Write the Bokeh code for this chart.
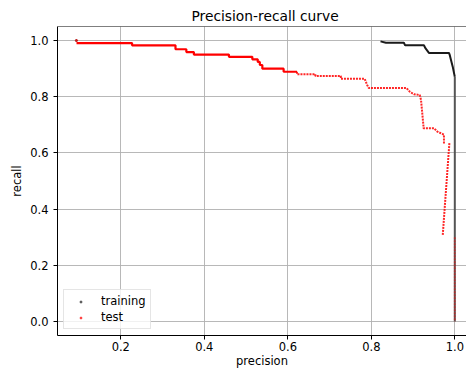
from bokeh.plotting import figure
from bokeh.models import Range1d, FixedTicker, PrintfTickFormatter, Span, Legend, LegendItem
from bokeh.embed import file_html
from bokeh.resources import INLINE

# ---------------- data ----------------
# training curve: baseline point, knee and the vertical run at precision 1.0
train_start_precision = [0.0937]
train_start_recall = [1.0]
train_knee_precision = [0.822, 0.835, 0.878, 0.881, 0.926, 0.930, 0.938, 0.986, 0.988, 0.991, 0.995, 0.998, 1.000]
train_knee_recall = [0.997, 0.992, 0.992, 0.983, 0.983, 0.972, 0.956, 0.956, 0.948, 0.930, 0.907, 0.885, 0.871]
train_vert_precision = [1.0, 1.0]
train_vert_recall = [0.871, 0.0]

# test curve: baseline point, dense low-precision part, sparse part, tail, top run
test_start_precision = [0.0937]
test_start_recall = [1.0]
test_dense_precision = [0.094, 0.227, 0.227, 0.331, 0.331, 0.357, 0.357, 0.375, 0.375, 0.459, 0.459,
                        0.515, 0.515, 0.528, 0.528, 0.533, 0.533, 0.539, 0.539, 0.590, 0.590, 0.622]
test_dense_recall = [0.991, 0.991, 0.983, 0.983, 0.969, 0.969, 0.959, 0.959, 0.950, 0.950, 0.942,
                     0.942, 0.933, 0.933, 0.924, 0.924, 0.913, 0.913, 0.900, 0.900, 0.889, 0.889]
test_sparse_precision = [0.622, 0.622, 0.666, 0.666, 0.727, 0.727, 0.784, 0.787, 0.790, 0.794, 0.884,
                         0.892, 0.902, 0.916, 0.919, 0.922, 0.925, 0.925, 0.950, 0.958, 0.974, 0.974]
test_sparse_recall = [0.889, 0.880, 0.880, 0.874, 0.874, 0.864, 0.864, 0.853, 0.842, 0.831, 0.831,
                      0.818, 0.809, 0.806, 0.789, 0.742, 0.694, 0.688, 0.688, 0.676, 0.665, 0.630]
test_tail_precision = [0.987, 0.971]
test_tail_recall = [0.635, 0.305]
test_top_precision = [1.0, 1.0]
test_top_recall = [0.30, 0.0]

x_ticks = [0.2, 0.4, 0.6, 0.8, 1.0]
y_ticks = [0.0, 0.2, 0.4, 0.6, 0.8, 1.0]

FONT = "DejaVu Sans"

p = figure(width=466, height=370,
           x_range=Range1d(0.0484, 1.028), y_range=Range1d(-0.05, 1.05),
           output_backend="svg", toolbar_location=None,
           min_border_left=57, min_border_right=0, min_border_top=26, min_border_bottom=34,
           title="Precision-recall curve")

p.title.text_font = FONT
p.title.text_font_size = "13.8px"
p.title.text_font_style = "normal"
p.title.text_color = "black"
p.title.align = "left"
p.title.offset = 134
p.title.standoff = 6

p.outline_line_color = None
p.add_layout(Span(location=1.05, dimension="width", line_color="black", line_width=1))

for ax in (p.xaxis, p.yaxis):
    ax.axis_line_color = "black"
    ax.axis_line_width = 1
    ax.major_tick_out = 4
    ax.major_tick_in = 0
    ax.major_tick_line_color = "black"
    ax.minor_tick_line_color = None
    ax.major_label_text_font = FONT
    ax.major_label_text_font_size = "11.5px"
    ax.major_label_text_color = "black"
    ax.axis_label_text_font = FONT
    ax.axis_label_text_font_size = "11.5px"
    ax.axis_label_text_font_style = "normal"
    ax.axis_label_text_color = "black"
    ax.formatter = PrintfTickFormatter(format="%.1f")

p.xaxis.ticker = FixedTicker(ticks=x_ticks)
p.yaxis.ticker = FixedTicker(ticks=y_ticks)
p.xaxis.axis_label = "precision"
p.yaxis.axis_label = "recall"
p.xaxis.major_label_standoff = 2
p.yaxis.major_label_standoff = 5
p.xaxis.axis_label_standoff = 0
p.yaxis.axis_label_standoff = 3

p.grid.grid_line_color = "#b0b0b0"
p.grid.grid_line_width = 0.9

# training (drawn first)
p.line(train_knee_precision, train_knee_recall, line_color="#1a1a1a", line_width=2)
p.line(train_vert_precision, train_vert_recall, line_color="#555555", line_width=2)
r_train = p.scatter(train_start_precision, train_start_recall, size=2, color="#555555")

# test
p.line(test_dense_precision, test_dense_recall, line_color="red", line_width=2.2)
p.line(test_sparse_precision, test_sparse_recall, line_color="red", line_width=2,
       line_dash="2 1", line_alpha=0.85)
p.line(test_tail_precision, test_tail_recall, line_color="red", line_width=2,
       line_dash="2 1", line_alpha=0.85)
p.line(test_top_precision, test_top_recall, line_color="red", line_width=2,
       line_dash="2 1", line_alpha=0.45)
r_test = p.scatter(test_start_precision, test_start_recall, size=2, color="red", alpha=0.6)

legend = Legend(items=[LegendItem(label="training", renderers=[r_train]),
                       LegendItem(label="test", renderers=[r_test])],
                location=(6, 6))
legend.label_text_font = FONT
legend.label_text_font_size = "11.5px"
legend.label_text_color = "black"
legend.padding = 4
legend.spacing = 2
legend.margin = 0
legend.label_height = 14
legend.glyph_height = 5
legend.glyph_width = 25
legend.label_standoff = 8
legend.border_line_color = "#cccccc"
legend.border_line_width = 1
legend.background_fill_alpha = 0.8
p.add_layout(legend)

open("out.html", "w").write(file_html(p, INLINE))
